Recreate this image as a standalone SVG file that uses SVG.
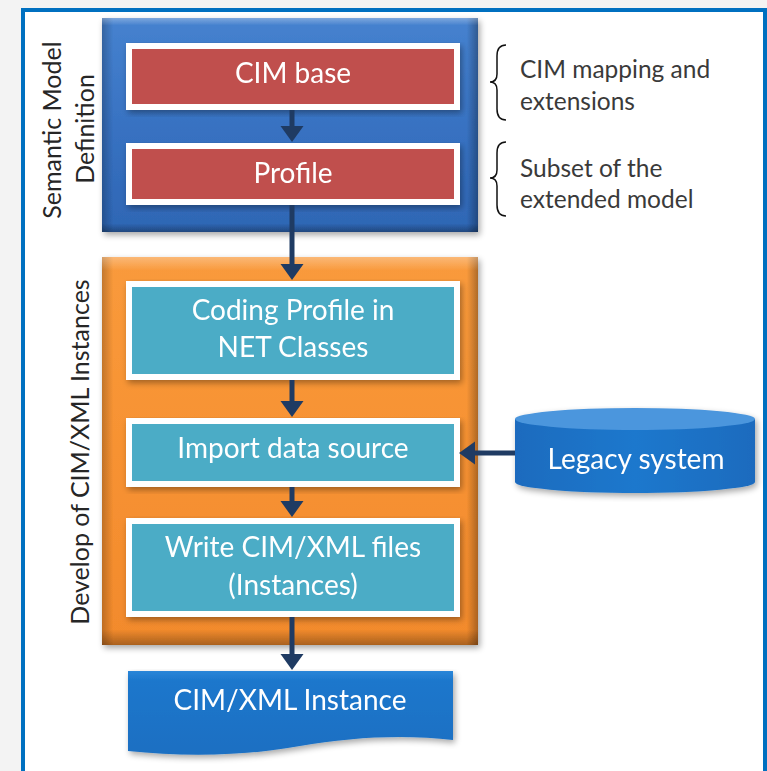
<svg xmlns="http://www.w3.org/2000/svg" width="767" height="771" viewBox="0 0 767 771">
  <defs>
    <style>
      .lbl { font-family: Lato, "Liberation Sans", sans-serif; fill: #ffffff; text-anchor: middle; font-size: 28px; }
      .side { font-family: Lato, "Liberation Sans", sans-serif; fill: #262626; text-anchor: middle; font-size: 25px; }
      .note { font-family: Lato, "Liberation Sans", sans-serif; fill: #3a3a3a; font-size: 24.5px; }
      .frame { fill: #ffffff; }
      .red { fill: #C0504D; }
      .cyan { fill: #4BACC6; }
      .conn { stroke: #1F3B63; stroke-width: 5; fill: none; marker-end: url(#head); }
      .brace { stroke: #111111; stroke-width: 1.5; fill: none; }
    </style>
    <marker id="head" markerUnits="userSpaceOnUse" markerWidth="24" markerHeight="24" refX="2" refY="11.5" orient="auto">
      <path d="M0,0 L16,11.5 L0,23 z" fill="#1F3B63"/>
    </marker>
    <linearGradient id="blueV" x1="0" y1="0" x2="0" y2="1">
      <stop offset="0" stop-color="#4682CF"/>
      <stop offset="0.5" stop-color="#3872C2"/>
      <stop offset="1" stop-color="#2E66B4"/>
    </linearGradient>
    <linearGradient id="orangeV" x1="0" y1="0" x2="0" y2="1">
      <stop offset="0" stop-color="#F99A3C"/>
      <stop offset="0.5" stop-color="#F79232"/>
      <stop offset="1" stop-color="#F28A2C"/>
    </linearGradient>
    <linearGradient id="edgeH" x1="0" y1="0" x2="1" y2="0">
      <stop offset="0" stop-color="#000" stop-opacity="0.22"/>
      <stop offset="0.03" stop-color="#000" stop-opacity="0"/>
      <stop offset="0.97" stop-color="#000" stop-opacity="0"/>
      <stop offset="1" stop-color="#000" stop-opacity="0.3"/>
    </linearGradient>
    <linearGradient id="edgeV" x1="0" y1="0" x2="0" y2="1">
      <stop offset="0" stop-color="#fff" stop-opacity="0.3"/>
      <stop offset="0.035" stop-color="#fff" stop-opacity="0"/>
      <stop offset="0.96" stop-color="#000" stop-opacity="0"/>
      <stop offset="1" stop-color="#000" stop-opacity="0.3"/>
    </linearGradient>
    <linearGradient id="docFill" x1="0" y1="0" x2="0" y2="1">
      <stop offset="0" stop-color="#2A86D8"/>
      <stop offset="0.12" stop-color="#1C77CC"/>
      <stop offset="1" stop-color="#1B6FC2"/>
    </linearGradient>
    <linearGradient id="cylBody" x1="0" y1="0" x2="1" y2="0">
      <stop offset="0" stop-color="#1A6BBE"/>
      <stop offset="0.5" stop-color="#1E78CD"/>
      <stop offset="1" stop-color="#1A6BBE"/>
    </linearGradient>
    <filter id="shadow" x="-5%" y="-5%" width="112%" height="115%">
      <feGaussianBlur in="SourceAlpha" stdDeviation="3"/>
      <feOffset dx="2" dy="3" result="b"/>
      <feComponentTransfer><feFuncA type="linear" slope="0.35"/></feComponentTransfer>
      <feMerge><feMergeNode/><feMergeNode in="SourceGraphic"/></feMerge>
    </filter>
  </defs>

  <!-- page background and framed panel -->
  <rect x="0" y="0" width="767" height="771" fill="#f3f3f3"/>
  <rect x="23" y="10" width="742" height="790" fill="#ffffff" stroke="#0070C0" stroke-width="4"/>

  <!-- side captions -->
  <g id="caption-semantic">
    <text class="side" transform="translate(61,130) rotate(-90)">Semantic Model</text>
    <text class="side" transform="translate(94,129) rotate(-90)">Definition</text>
  </g>
  <g id="caption-develop">
    <text class="side" font-size="24" transform="translate(89,452) rotate(-90)">Develop of CIM/XML Instances</text>
  </g>

  <!-- container: semantic model definition -->
  <g id="semantic-model" filter="url(#shadow)">
    <rect x="102" y="18" width="376" height="214" fill="url(#blueV)"/>
    <rect x="102" y="18" width="376" height="214" fill="url(#edgeH)"/>
    <rect x="102" y="18" width="376" height="214" fill="url(#edgeV)"/>
  </g>

  <!-- container: CIM/XML instance development -->
  <g id="develop" filter="url(#shadow)">
    <rect x="102" y="257" width="376" height="388" fill="url(#orangeV)"/>
    <rect x="102" y="257" width="376" height="388" fill="url(#edgeH)"/>
    <rect x="102" y="257" width="376" height="388" fill="url(#edgeV)"/>
  </g>

  <g id="cim-base" filter="url(#shadow)">
    <rect class="frame" x="126" y="43" width="334" height="67"/>
    <rect class="red" x="132" y="49" width="322" height="55"/>
    <text class="lbl" x="293" y="83">CIM base</text>
  </g>

  <g id="profile" filter="url(#shadow)">
    <rect class="frame" x="126" y="143" width="334" height="62"/>
    <rect class="red" x="132" y="149" width="322" height="50"/>
    <text class="lbl" x="293" y="183">Profile</text>
  </g>

  <g id="coding-profile" filter="url(#shadow)">
    <rect class="frame" x="126" y="281" width="334" height="99"/>
    <rect class="cyan" x="132" y="287" width="322" height="87"/>
    <text class="lbl" x="293" y="320">Coding Profile in</text>
    <text class="lbl" x="293" y="357">NET Classes</text>
  </g>

  <g id="import-data" filter="url(#shadow)">
    <rect class="frame" x="126" y="418" width="334" height="69"/>
    <rect class="cyan" x="132" y="424" width="322" height="57"/>
    <text class="lbl" x="293" y="458">Import data source</text>
  </g>

  <g id="write-files" filter="url(#shadow)">
    <rect class="frame" x="126" y="518" width="334" height="99"/>
    <rect class="cyan" x="132" y="524" width="322" height="87"/>
    <text class="lbl" x="293" y="557">Write CIM/XML files</text>
    <text class="lbl" x="293" y="595">(Instances)</text>
  </g>

  <g id="cim-xml-instance" filter="url(#shadow)">
    <path d="M128,671 H453 V740 C405,734 350,737 300,746 C245,756 185,757 128,751 Z" fill="url(#docFill)"/>
    <text class="lbl" x="290" y="710">CIM/XML Instance</text>
  </g>

  <g id="legacy-system" filter="url(#shadow)">
    <path d="M515,419 V482 A120,11 0 0 0 755,482 V419 Z" fill="url(#cylBody)"/>
    <ellipse cx="635" cy="419" rx="120" ry="11" fill="#4B96DD"/>
    <text class="lbl" x="636" y="469">Legacy system</text>
  </g>

  <!-- brace notes -->
  <g id="note-mapping">
    <path class="brace" d="M506,45 Q497,45 497,56 V74 Q497,82 490,82 Q497,82 497,90 V109 Q497,120 506,120"/>
    <text class="note" x="520" y="78">CIM mapping and</text>
    <text class="note" x="520" y="110">extensions</text>
  </g>
  <g id="note-subset">
    <path class="brace" d="M506,142 Q497,142 497,153 V170 Q497,178 490,178 Q497,178 497,186 V205 Q497,216 506,216"/>
    <text class="note" x="520" y="177">Subset of the</text>
    <text class="note" x="520" y="208">extended model</text>
  </g>

  <!-- connectors -->
  <g id="connectors">
    <line class="conn" x1="292" y1="110" x2="292" y2="128"/>
    <line class="conn" x1="292" y1="205" x2="292" y2="266"/>
    <line class="conn" x1="292" y1="380" x2="292" y2="403"/>
    <line class="conn" x1="292" y1="487" x2="292" y2="503"/>
    <line class="conn" x1="292" y1="617" x2="292" y2="656"/>
    <line class="conn" x1="515" y1="453" x2="473" y2="453"/>
  </g>
</svg>
